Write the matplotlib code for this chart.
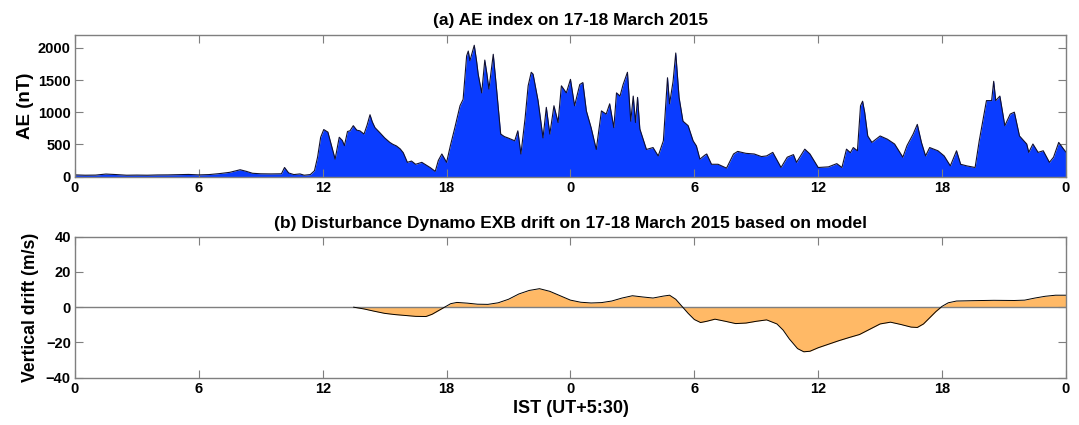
import matplotlib
matplotlib.use("Agg")
import matplotlib.pyplot as plt

plt.rcParams['font.family'] = ['Liberation Sans', 'DejaVu Sans']
plt.rcParams['font.weight'] = 'bold'

# AE index, hours from 00 IST on 17 March
ae_hours = [0.0, 0.5, 1.0, 1.5, 2.0, 2.5, 3.0, 3.5, 4.0, 4.5, 5.0, 5.5, 6.0, 6.5,
            7.0, 7.5, 7.8, 8.0, 8.3, 8.6, 9.0, 9.5, 10.0, 10.15, 10.35, 10.6, 10.9,
            11.1, 11.4, 11.6, 11.75, 11.9, 12.05, 12.25, 12.45, 12.6, 12.8, 12.95,
            13.05, 13.2, 13.32, 13.48, 13.65, 13.8, 14.0, 14.15, 14.29, 14.4, 14.53,
            14.77, 15.0, 15.25, 15.4, 15.57, 15.75, 15.9, 16.1, 16.3, 16.5, 16.8,
            17.0, 17.2, 17.45, 17.6, 17.77, 18.0, 18.18, 18.4, 18.65, 18.8, 18.97,
            19.05, 19.13, 19.34, 19.45, 19.53, 19.7, 19.85, 19.95, 20.05, 20.26,
            20.4, 20.62, 20.8, 20.97, 21.3, 21.45, 21.6, 21.8, 21.95, 22.1, 22.19,
            22.43, 22.67, 22.83, 23.0, 23.2, 23.4, 23.56, 23.8, 24.0, 24.1, 24.2,
            24.45, 24.6, 24.77, 25.0, 25.25, 25.5, 25.73, 25.9, 26.1, 26.23, 26.4,
            26.55, 26.76, 26.92, 27.04, 27.15, 27.25, 27.36, 27.68, 28.0, 28.25,
            28.5, 28.7, 28.8, 28.97, 29.1, 29.26, 29.45, 29.7, 29.94, 30.1, 30.27,
            30.5, 30.6, 30.83, 31.15, 31.56, 31.9, 32.1, 32.5, 32.9, 33.25, 33.5,
            33.8, 34.2, 34.5, 34.8, 34.95, 35.35, 35.6, 36.0, 36.5, 36.9, 37.15,
            37.37, 37.56, 37.7, 37.9, 38.05, 38.15, 38.25, 38.4, 38.6, 39.0, 39.35,
            39.7, 40.1, 40.3, 40.6, 40.8, 41.0, 41.2, 41.4, 41.8, 42.1, 42.4, 42.7,
            42.9, 43.2, 43.6, 43.8, 44.15, 44.4, 44.5, 44.6, 44.8, 45.04, 45.3,
            45.5, 45.75, 46.1, 46.2, 46.4, 46.65, 46.9, 47.2, 47.4, 47.65, 47.9, 48.0]
ae_nt = [25, 20, 22, 38, 30, 20, 22, 20, 24, 25, 28, 32, 25, 30,
         45, 65, 90, 105, 80, 50, 42, 40, 42, 140, 55, 30, 40,
         20, 30, 90, 300, 610, 730, 690, 450, 270, 610, 560,
         480, 700, 710, 790, 720, 710, 660, 800, 960, 850, 760,
         680, 600, 530, 500, 475, 430, 370, 220, 240, 190, 220,
         180, 140, 80, 250, 350, 220, 475, 760, 1100, 1200, 1875,
         1950, 1800, 2040, 1800, 1590, 1300, 1810, 1600, 1360, 1900,
         1430, 660, 620, 600, 555, 710, 350, 900, 1410, 1620, 1590,
         1180, 600, 1075, 660, 1100, 840, 1410, 1300, 1510, 1300, 1100,
         1430, 1460, 1020, 760, 420, 1020, 970, 1130, 760, 1300, 1250,
         1430, 1620, 860, 1250, 840, 1230, 740, 420, 450, 320,
         555, 1535, 1130, 1480, 1920, 1230, 860, 790, 555, 475, 270,
         330, 350, 190, 190, 130, 350, 390, 360, 350, 310, 320,
         375, 140, 300, 340, 220, 425, 350, 140, 150, 200, 140,
         425, 370, 450, 400, 1100, 1170, 1000, 630, 530, 630, 580,
         505, 300, 480, 660, 810, 530, 320, 450, 400, 320, 165, 400,
         190, 165, 140, 555, 1180, 1180, 1480, 1180, 1250, 790, 970,
         1000, 630, 505, 375, 505, 375, 400, 220, 300, 530, 420, 380]

# modelled disturbance dynamo vertical drift (m/s), zero before 13.5 h
dd_hours = [13.5, 14.0, 14.5, 15.0, 15.5, 16.0, 16.5, 17.0, 17.3, 17.6, 17.9,
            18.2, 18.5, 19.0, 19.5, 20.0, 20.5, 21.0, 21.5, 22.0, 22.5, 23.0, 23.5,
            24.0, 24.5, 25.0, 25.5, 26.0, 26.5, 27.0, 27.5, 28.0, 28.5, 28.8, 29.1,
            29.4, 29.7, 30.0, 30.3, 30.6, 31.0, 31.5, 32.0, 32.5, 33.0, 33.5, 34.0,
            34.3, 34.6, 35.0, 35.3, 35.6, 36.0, 36.5, 37.0, 37.5, 38.0, 38.5, 39.0,
            39.5, 40.0, 40.5, 40.8, 41.1, 41.4, 41.7, 42.0, 42.3, 42.7, 43.5, 44.5,
            45.5, 46.0, 46.5, 47.0, 47.5, 48.0]
dd_drift = [0.0, -1.0, -2.3, -3.5, -4.2, -4.7, -5.2, -5.3, -4.0, -2.0, 0.0,
            2.0, 2.7, 2.3, 1.7, 1.6, 2.5, 4.5, 7.5, 9.5, 10.5, 9.0, 6.5,
            4.0, 2.8, 2.4, 2.6, 3.5, 5.2, 6.5, 5.8, 5.2, 6.3, 6.8, 4.5,
            0.5, -3.5, -7.0, -8.7, -8.0, -6.8, -8.0, -9.3, -9.0, -8.0, -7.2, -9.5,
            -13.0, -18.0, -23.5, -25.3, -25.0, -23.0, -21.0, -19.0, -17.2, -15.5, -12.5, -9.5,
            -8.5, -9.8, -11.3, -11.5, -9.5, -6.0, -2.5, 0.5, 2.5, 3.5, 3.7, 3.9,
            3.8, 4.0, 5.2, 6.2, 6.8, 6.8]

hour_ticks = [0, 6, 12, 18, 24, 30, 36, 42, 48]
hour_labels = ['0', '6', '12', '18', '0', '6', '12', '18', '0']

fig = plt.figure(figsize=(10.79, 4.25), dpi=100)
ax1 = fig.add_axes([0.0695, 0.5847, 0.9184, 0.333])
ax2 = fig.add_axes([0.0695, 0.1113, 0.9184, 0.3318])

frame = '#7f7f7f'

ax1.fill_between(ae_hours, ae_nt, 0, color='#0a3cff', lw=0)
ax1.plot(ae_hours, ae_nt, color='#101030', lw=0.8)
ax1.set_ylim(0, 2200)
ax1.set_yticks([0, 500, 1000, 1500, 2000])
ax1.set_ylabel('AE (nT)', fontsize=13.5, fontweight='bold', labelpad=3)

ax2.axhline(0, color=frame, lw=1.0)
ax2.fill_between(dd_hours, dd_drift, 0, color='#ffb966', lw=0)
ax2.plot(dd_hours, dd_drift, color='k', lw=0.7)
ax2.set_ylim(-40, 40)
ax2.set_yticks([-40, -20, 0, 20, 40])
ax2.set_ylabel('Vertical drift (m/s)', fontsize=12.7, fontweight='bold', labelpad=5)
ax2.set_xlabel('IST (UT+5:30)', fontsize=13, fontweight='bold', labelpad=3)

for ax in (ax1, ax2):
    ax.set_xlim(0, 48)
    ax.set_xticks(hour_ticks)
    ax.set_xticklabels(hour_labels)
    ax.tick_params(direction='in', top=True, right=True, length=6, width=0.8,
                   color=frame, labelsize=10.5, pad=3)
    for lab in ax.get_xticklabels() + ax.get_yticklabels():
        lab.set_fontweight('bold')
    for sp in ax.spines.values():
        sp.set_color(frame)
        sp.set_linewidth(1.0)

ax1.set_title('(a) AE index on 17-18 March 2015', fontsize=12.5, fontweight='bold', pad=7)
ax2.set_title('(b) Disturbance Dynamo EXB drift on 17-18 March 2015 based on model',
              fontsize=12.5, fontweight='bold', pad=6)

fig.savefig('out.png', dpi=100)
